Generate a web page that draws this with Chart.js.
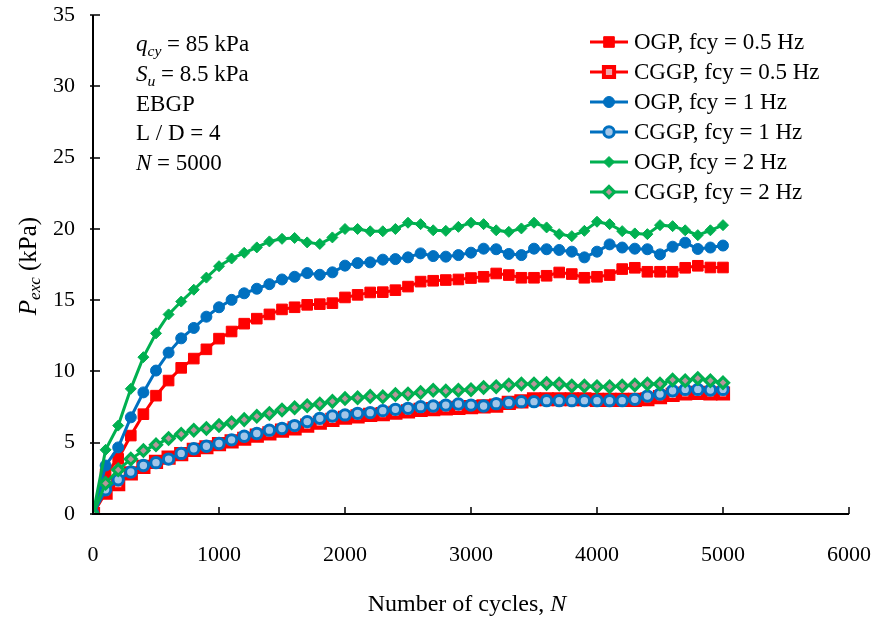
<!DOCTYPE html>
<html>
<head>
<meta charset="utf-8">
<script src="https://cdn.jsdelivr.net/npm/chart.js@4.4.1/dist/chart.umd.min.js"></script>
<style>
    html, body { margin: 0; padding: 0; background: #ffffff; }
    #chart { display: block; }
</style>
</head>
<body>
<canvas id="chart" width="875" height="623"></canvas>
<script>
const cycles = [0, 100, 200, 300, 400, 500, 600, 700, 800, 900,
    1000, 1100, 1200, 1300, 1400, 1500, 1600, 1700, 1800, 1900,
    2000, 2100, 2200, 2300, 2400, 2500, 2600, 2700, 2800, 2900,
    3000, 3100, 3200, 3300, 3400, 3500, 3600, 3700, 3800, 3900,
    4000, 4100, 4200, 4300, 4400, 4500, 4600, 4700, 4800, 4900, 5000];

const ogp05 = [0, 2.8, 3.87, 5.5, 7.0, 8.3, 9.36, 10.25, 10.9, 11.55,
    12.3, 12.8, 13.35, 13.7, 14.0, 14.35, 14.5, 14.67, 14.72, 14.79,
    15.19, 15.37, 15.54, 15.56, 15.7, 15.95, 16.3, 16.36, 16.41, 16.45,
    16.55, 16.64, 16.87, 16.76, 16.57, 16.57, 16.71, 16.94, 16.83, 16.57,
    16.64, 16.76, 17.18, 17.27, 16.99, 16.99, 16.99, 17.27, 17.41, 17.29, 17.29];

const cggp05 = [0, 1.5, 2.1, 2.85, 3.3, 3.65, 3.95, 4.2, 4.5, 4.68,
    4.9, 5.1, 5.28, 5.5, 5.65, 5.85, 6.0, 6.2, 6.4, 6.6,
    6.75, 6.85, 6.95, 7.0, 7.1, 7.2, 7.3, 7.35, 7.4, 7.45,
    7.5, 7.55, 7.6, 7.8, 7.9, 8.05, 8.05, 8.05, 8.05, 8.05,
    8.0, 8.0, 8.0, 8.0, 8.05, 8.2, 8.35, 8.45, 8.5, 8.45, 8.45];

const ogp1 = [0, 3.4, 4.67, 6.78, 8.53, 10.06, 11.32, 12.32, 13.05, 13.84,
    14.5, 15.02, 15.48, 15.8, 16.12, 16.45, 16.64, 16.9, 16.78, 16.95,
    17.42, 17.6, 17.65, 17.84, 17.88, 18.0, 18.28, 18.09, 18.05, 18.16,
    18.33, 18.61, 18.57, 18.24, 18.16, 18.61, 18.57, 18.52, 18.4, 18.0,
    18.4, 18.91, 18.69, 18.61, 18.57, 18.21, 18.75, 19.03, 18.59, 18.69, 18.83];

const cggp1 = [0, 1.7, 2.4, 2.95, 3.4, 3.6, 3.85, 4.25, 4.58, 4.75,
    4.95, 5.2, 5.45, 5.65, 5.88, 6.0, 6.2, 6.48, 6.71, 6.87,
    6.95, 7.06, 7.11, 7.25, 7.34, 7.41, 7.53, 7.57, 7.64, 7.72,
    7.64, 7.57, 7.74, 7.81, 7.88, 7.88, 7.95, 7.95, 7.95, 7.95,
    7.95, 7.95, 7.95, 8.04, 8.27, 8.41, 8.65, 8.74, 8.74, 8.7, 8.74];

const ogp2 = [0, 4.5, 6.2, 8.78, 11.0, 12.67, 14.0, 14.9, 15.73, 16.58,
    17.38, 17.92, 18.32, 18.7, 19.12, 19.3, 19.36, 19.05, 18.94, 19.4,
    19.99, 19.99, 19.83, 19.83, 19.99, 20.43, 20.33, 19.9, 19.86, 20.14,
    20.43, 20.33, 19.9, 19.79, 20.03, 20.43, 20.1, 19.63, 19.49, 19.86,
    20.5, 20.33, 19.84, 19.68, 19.63, 20.26, 20.19, 19.9, 19.56, 19.9, 20.26];

const cggp2 = [0, 2.15, 3.1, 3.85, 4.45, 4.85, 5.3, 5.6, 5.88, 6.0,
    6.2, 6.4, 6.62, 6.85, 7.05, 7.3, 7.45, 7.6, 7.72, 7.9,
    8.1, 8.15, 8.25, 8.22, 8.38, 8.42, 8.52, 8.68, 8.62, 8.68,
    8.72, 8.88, 8.93, 9.05, 9.12, 9.12, 9.16, 9.12, 8.98, 8.98,
    8.93, 8.93, 8.98, 9.05, 9.12, 9.12, 9.4, 9.35, 9.51, 9.35, 9.21];

const seriesLabels = ["OGP, fcy = 0.5 Hz", "CGGP, fcy = 0.5 Hz", "OGP, fcy = 1 Hz",
    "CGGP, fcy = 1 Hz", "OGP, fcy = 2 Hz", "CGGP, fcy = 2 Hz"];

const xTicks = [0, 1000, 2000, 3000, 4000, 5000, 6000];
const yTicks = [0, 5, 10, 15, 20, 25, 30, 35];

const RED = "#ff0000";
const BLUE = "#0070c0";
const GREEN = "#00b050";
const FONT = "'Liberation Serif', 'Times New Roman', serif";

function toPoints(values) {
    return cycles.map((c, i) => ({ x: c, y: values[i] }));
}

function makeDataset(label, values, color, style, fill, radius, border, order) {
    return {
        label: label,
        data: toPoints(values),
        borderColor: color,
        borderWidth: 3,
        pointStyle: style,
        pointRadius: radius,
        pointBackgroundColor: fill,
        pointBorderColor: color,
        pointBorderWidth: border,
        order: order,
    };
}

const datasets = [
    makeDataset(seriesLabels[0], ogp05, RED, "rect", RED, 7.5, 1, 6),
    makeDataset(seriesLabels[1], cggp05, RED, "rect", "#eea6ae", 7.2, 4, 5),
    makeDataset(seriesLabels[2], ogp1, BLUE, "circle", BLUE, 5.5, 1, 4),
    makeDataset(seriesLabels[3], cggp1, BLUE, "circle", "#a3c6e8", 5.2, 3, 3),
    makeDataset(seriesLabels[4], ogp2, GREEN, "rectRot", GREEN, 5.5, 1, 2),
    makeDataset(seriesLabels[5], cggp2, GREEN, "rectRot", "#b8959c", 5.5, 3.2, 1),
];

// draw a run of text pieces, some italic or subscript
function drawRich(ctx, parts, x, y, size) {
    let cx = x;
    parts.forEach(p => {
        const fs = p.sub ? size * 0.68 : size;
        ctx.font = (p.italic ? "italic " : "") + fs + "px " + FONT;
        ctx.fillText(p.t, cx, y + (p.sub ? size * 0.28 : 0));
        cx += ctx.measureText(p.t).width;
    });
    return cx - x;
}

function richWidth(ctx, parts, size) {
    let w = 0;
    parts.forEach(p => {
        const fs = p.sub ? size * 0.68 : size;
        ctx.font = (p.italic ? "italic " : "") + fs + "px " + FONT;
        w += ctx.measureText(p.t).width;
    });
    return w;
}

const decorPlugin = {
    id: "decor",
    afterDraw(chart) {
        const ctx = chart.ctx;
        const area = chart.chartArea;
        const xs = chart.scales.x;
        const ys = chart.scales.y;
        ctx.save();

        // left and bottom axes with short ticks
        ctx.strokeStyle = "#000000";
        ctx.lineWidth = 2;
        ctx.beginPath();
        ctx.moveTo(area.left, area.top);
        ctx.lineTo(area.left, area.bottom);
        ctx.lineTo(area.right, area.bottom);
        ctx.stroke();
        ctx.beginPath();
        yTicks.forEach(v => {
            const py = Math.round(ys.getPixelForValue(v));
            ctx.moveTo(area.left - 3, py);
            ctx.lineTo(area.left + 7, py);
        });
        xTicks.forEach(v => {
            const px = Math.round(xs.getPixelForValue(v));
            ctx.moveTo(px, area.bottom);
            ctx.lineTo(px, area.bottom - 7);
        });
        ctx.lineWidth = 1.5;
        ctx.stroke();

        ctx.fillStyle = "#000000";
        ctx.textBaseline = "middle";
        ctx.textAlign = "left";

        // parameter notes
        const size = 23;
        drawRich(ctx, [{ t: "q", italic: true }, { t: "cy", italic: true, sub: true }, { t: " = 85 kPa" }], 136, 45, size);
        drawRich(ctx, [{ t: "S", italic: true }, { t: "u", italic: true, sub: true }, { t: " = 8.5 kPa" }], 136, 75, size);
        drawRich(ctx, [{ t: "EBGP" }], 136, 105, size);
        drawRich(ctx, [{ t: "L / D = 4" }], 136, 134, size);
        drawRich(ctx, [{ t: "N", italic: true }, { t: " = 5000" }], 136, 164, size);

        // legend
        datasets.forEach((ds, i) => {
            const ly = 42 + i * 30;
            ctx.strokeStyle = ds.borderColor;
            ctx.lineWidth = 3;
            ctx.beginPath();
            ctx.moveTo(590, ly);
            ctx.lineTo(628, ly);
            ctx.stroke();
            ctx.fillStyle = ds.pointBackgroundColor;
            ctx.strokeStyle = ds.pointBorderColor;
            ctx.lineWidth = ds.pointBorderWidth;
            Chart.helpers.drawPoint(ctx, {
                pointStyle: ds.pointStyle,
                radius: ds.pointRadius,
                rotation: 0,
                borderWidth: ds.pointBorderWidth,
            }, 609, ly);
            ctx.fillStyle = "#000000";
            ctx.font = size + "px " + FONT;
            ctx.fillText(ds.label, 634, ly + 1);
        });

        // axis titles
        const xt = [{ t: "Number of cycles, " }, { t: "N", italic: true }];
        const xw = richWidth(ctx, xt, 24);
        drawRich(ctx, xt, 467 - xw / 2, 605, 24);

        const yt = [{ t: "P", italic: true }, { t: "exc", italic: true, sub: true }, { t: " (kPa)" }];
        const yw = richWidth(ctx, yt, 25);
        ctx.translate(29, 266);
        ctx.rotate(-Math.PI / 2);
        drawRich(ctx, yt, -yw / 2, 0, 25);

        ctx.restore();
    },
};

new Chart(document.getElementById("chart"), {
    type: "line",
    data: { datasets: datasets },
    options: {
        responsive: false,
        animation: false,
        layout: { padding: { left: 0, top: 15, right: 26, bottom: 0 } },
        plugins: {
            legend: { display: false },
            tooltip: { enabled: false },
        },
        scales: {
            x: {
                type: "linear",
                min: xTicks[0],
                max: xTicks[xTicks.length - 1],
                ticks: {
                    stepSize: 1000,
                    padding: 28,
                    color: "#000000",
                    font: { family: FONT, size: 22 },
                    maxRotation: 0,
                    callback: v => String(v),
                },
                grid: { display: false, drawTicks: false },
                border: { display: false },
                afterFit: scale => {
                    scale.height = 109;
                    scale.paddingLeft = 0;
                    scale.paddingRight = 0;
                },
            },
            y: {
                type: "linear",
                min: yTicks[0],
                max: yTicks[yTicks.length - 1],
                ticks: {
                    stepSize: 5,
                    padding: 18,
                    color: "#000000",
                    font: { family: FONT, size: 22 },
                    callback: v => String(v),
                },
                grid: { display: false, drawTicks: false },
                border: { display: false },
                afterFit: scale => {
                    scale.width = 93;
                    scale.paddingTop = 0;
                    scale.paddingBottom = 0;
                },
            },
        },
    },
    plugins: [decorPlugin],
});
</script>
</body>
</html>
